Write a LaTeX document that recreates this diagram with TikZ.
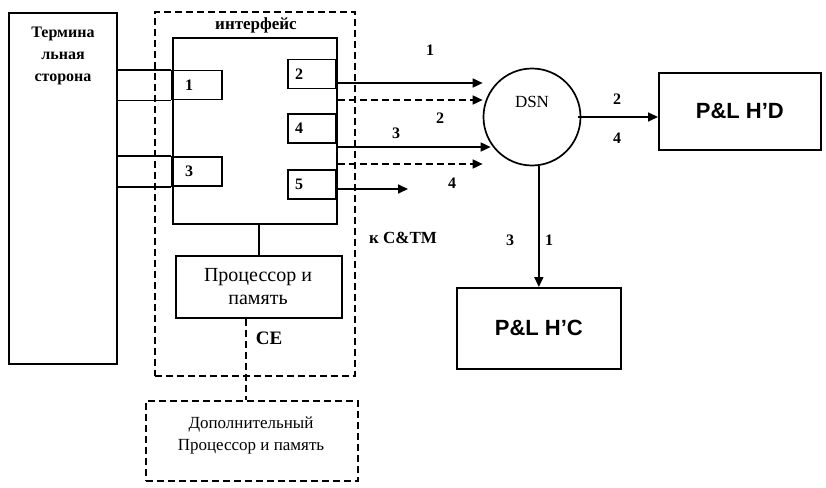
\documentclass[tikz,border=0pt]{standalone}
\usepackage{fontspec}
\setmainfont{Liberation Serif}
\newfontfamily\plfont{Liberation Sans}
\usetikzlibrary{arrows.meta}

\begin{document}
\begin{tikzpicture}[x=1pt, y=-1pt, line width=1.7pt,
    box/.style={draw, rectangle, inner sep=0pt},
    port/.style={box, minimum height=29pt, align=left, font=\bfseries\fontsize{16}{16}\selectfont},
    portl/.style={port, minimum width=50pt, inner xsep=13pt, text width=24pt},
    portr/.style={port, minimum width=48pt, inner xsep=7pt, text width=34pt},
    dline/.style={dash pattern=on 7pt off 4pt},
    arr/.style={-{Triangle[length=10pt,width=9pt]}},
    lbl/.style={font=\bfseries\fontsize{16}{16}\selectfont},
    plbox/.style={box, font=\plfont\bfseries\fontsize{22}{22}\selectfont}]
  \useasboundingbox (0,0) rectangle (826,487);

  % Терминальная сторона
  \node[box, minimum width=108pt, minimum height=351pt, anchor=north west] (term) at (8,12) {};
  \node[align=center, font=\bfseries\fontsize{16}{22}\selectfont] (termtxt) at (63,56) {Термина\\льная\\сторона};

  % CE и интерфейс
  \node[box, dline, minimum width=200pt, minimum height=364pt, anchor=north west] (ce) at (154,11) {};
  \node[font=\bfseries\fontsize{17}{17}\selectfont] (ifacetxt) at (256,25) {интерфейс};
  \node[box, minimum width=164pt, minimum height=186pt, anchor=north west] (iface) at (172,37) {};

  % порты
  \node[portl] (p1) at (197,85) {1};
  \node[portl] (p3) at (197,171.5) {3};
  \node[portr] (p2) at (312,74) {2};
  \node[portr] (p4) at (312,128.5) {4};
  \node[portr] (p5) at (312,184.5) {5};

  \draw (term.east |- p1.north) -- (p1.north west);
  \draw (term.east |- p1.south) -- (p1.south west);
  \draw (term.east |- p3.north) -- (p3.south west |- p3.north);
  \draw (term.east |- p3.south) -- (p3.south west);

  % процессор
  \node[box, minimum width=166pt, minimum height=62pt, anchor=north west] (proc) at (175,255) {};
  \node[align=center, font=\fontsize{20}{23}\selectfont] (proctxt) at (258,287) {Процессор и\\память};
  \draw (proc.north |- iface.south) -- (proc.north);
  \node[font=\bfseries\fontsize{19}{19}\selectfont] (cetxt) at (269,338) {CE};

  % дополнительный процессор
  \node[box, dline, minimum width=212pt, minimum height=80pt, anchor=north west] (extra) at (145,400) {};
  \node[align=center, font=\fontsize{17}{22}\selectfont] (extratxt) at (251,435) {Дополнительный\\Процессор и память};
  \draw[dline] ([xshift=-13pt]proc.south) -- ([xshift=-13pt]proc.south |- extra.north);

  % DSN
  \node[draw, circle, minimum size=97pt, inner sep=0pt] (dsn) at (532,117) {};
  \node[font=\fontsize{17}{17}\selectfont] (dsntxt) at (532,102) {DSN};

  \draw[arr] (iface.east |- 0,83) -- (dsn.west |- 0,83);
  \draw[arr, dline] (iface.east |- 0,100) -- (dsn.west |- 0,100);
  \draw[arr] (iface.east |- 0,147) -- ([xshift=8pt]dsn.west |- 0,147);
  \draw[arr, dline] (iface.east |- 0,164) -- (dsn.west |- 0,164);
  \coordinate (cmend) at (408,189);
  \draw[arr] (iface.east |- cmend) -- (cmend);

  \node[lbl] (n1) at (430,50) {1};
  \node[lbl] (n2) at (440,118) {2};
  \node[lbl] (n3) at (396,133) {3};
  \node[lbl] (n4) at (452,183) {4};
  \node[font=\bfseries\fontsize{17}{17}\selectfont] (tocm) at (403,238) {к C\&TM};

  % P&L
  \node[plbox, minimum width=162pt, minimum height=77pt, anchor=north west] (hd) at (658,72) {P\&L H’D};
  \node[plbox, minimum width=164pt, minimum height=81pt, anchor=north west] (hc) at (456,287) {P\&L H’C};

  \draw[arr] ([xshift=-3pt]dsn.east) -- (hd.west |- dsn.east);
  \draw[arr] (hc.north |- dsn.south) -- (hc.north);

  \node[lbl] (m2) at (617,99) {2};
  \node[lbl] (m4) at (617,138) {4};
  \node[lbl] (m3) at (510,240) {3};
  \node[lbl] (m1) at (549,240) {1};
\end{tikzpicture}
\end{document}
